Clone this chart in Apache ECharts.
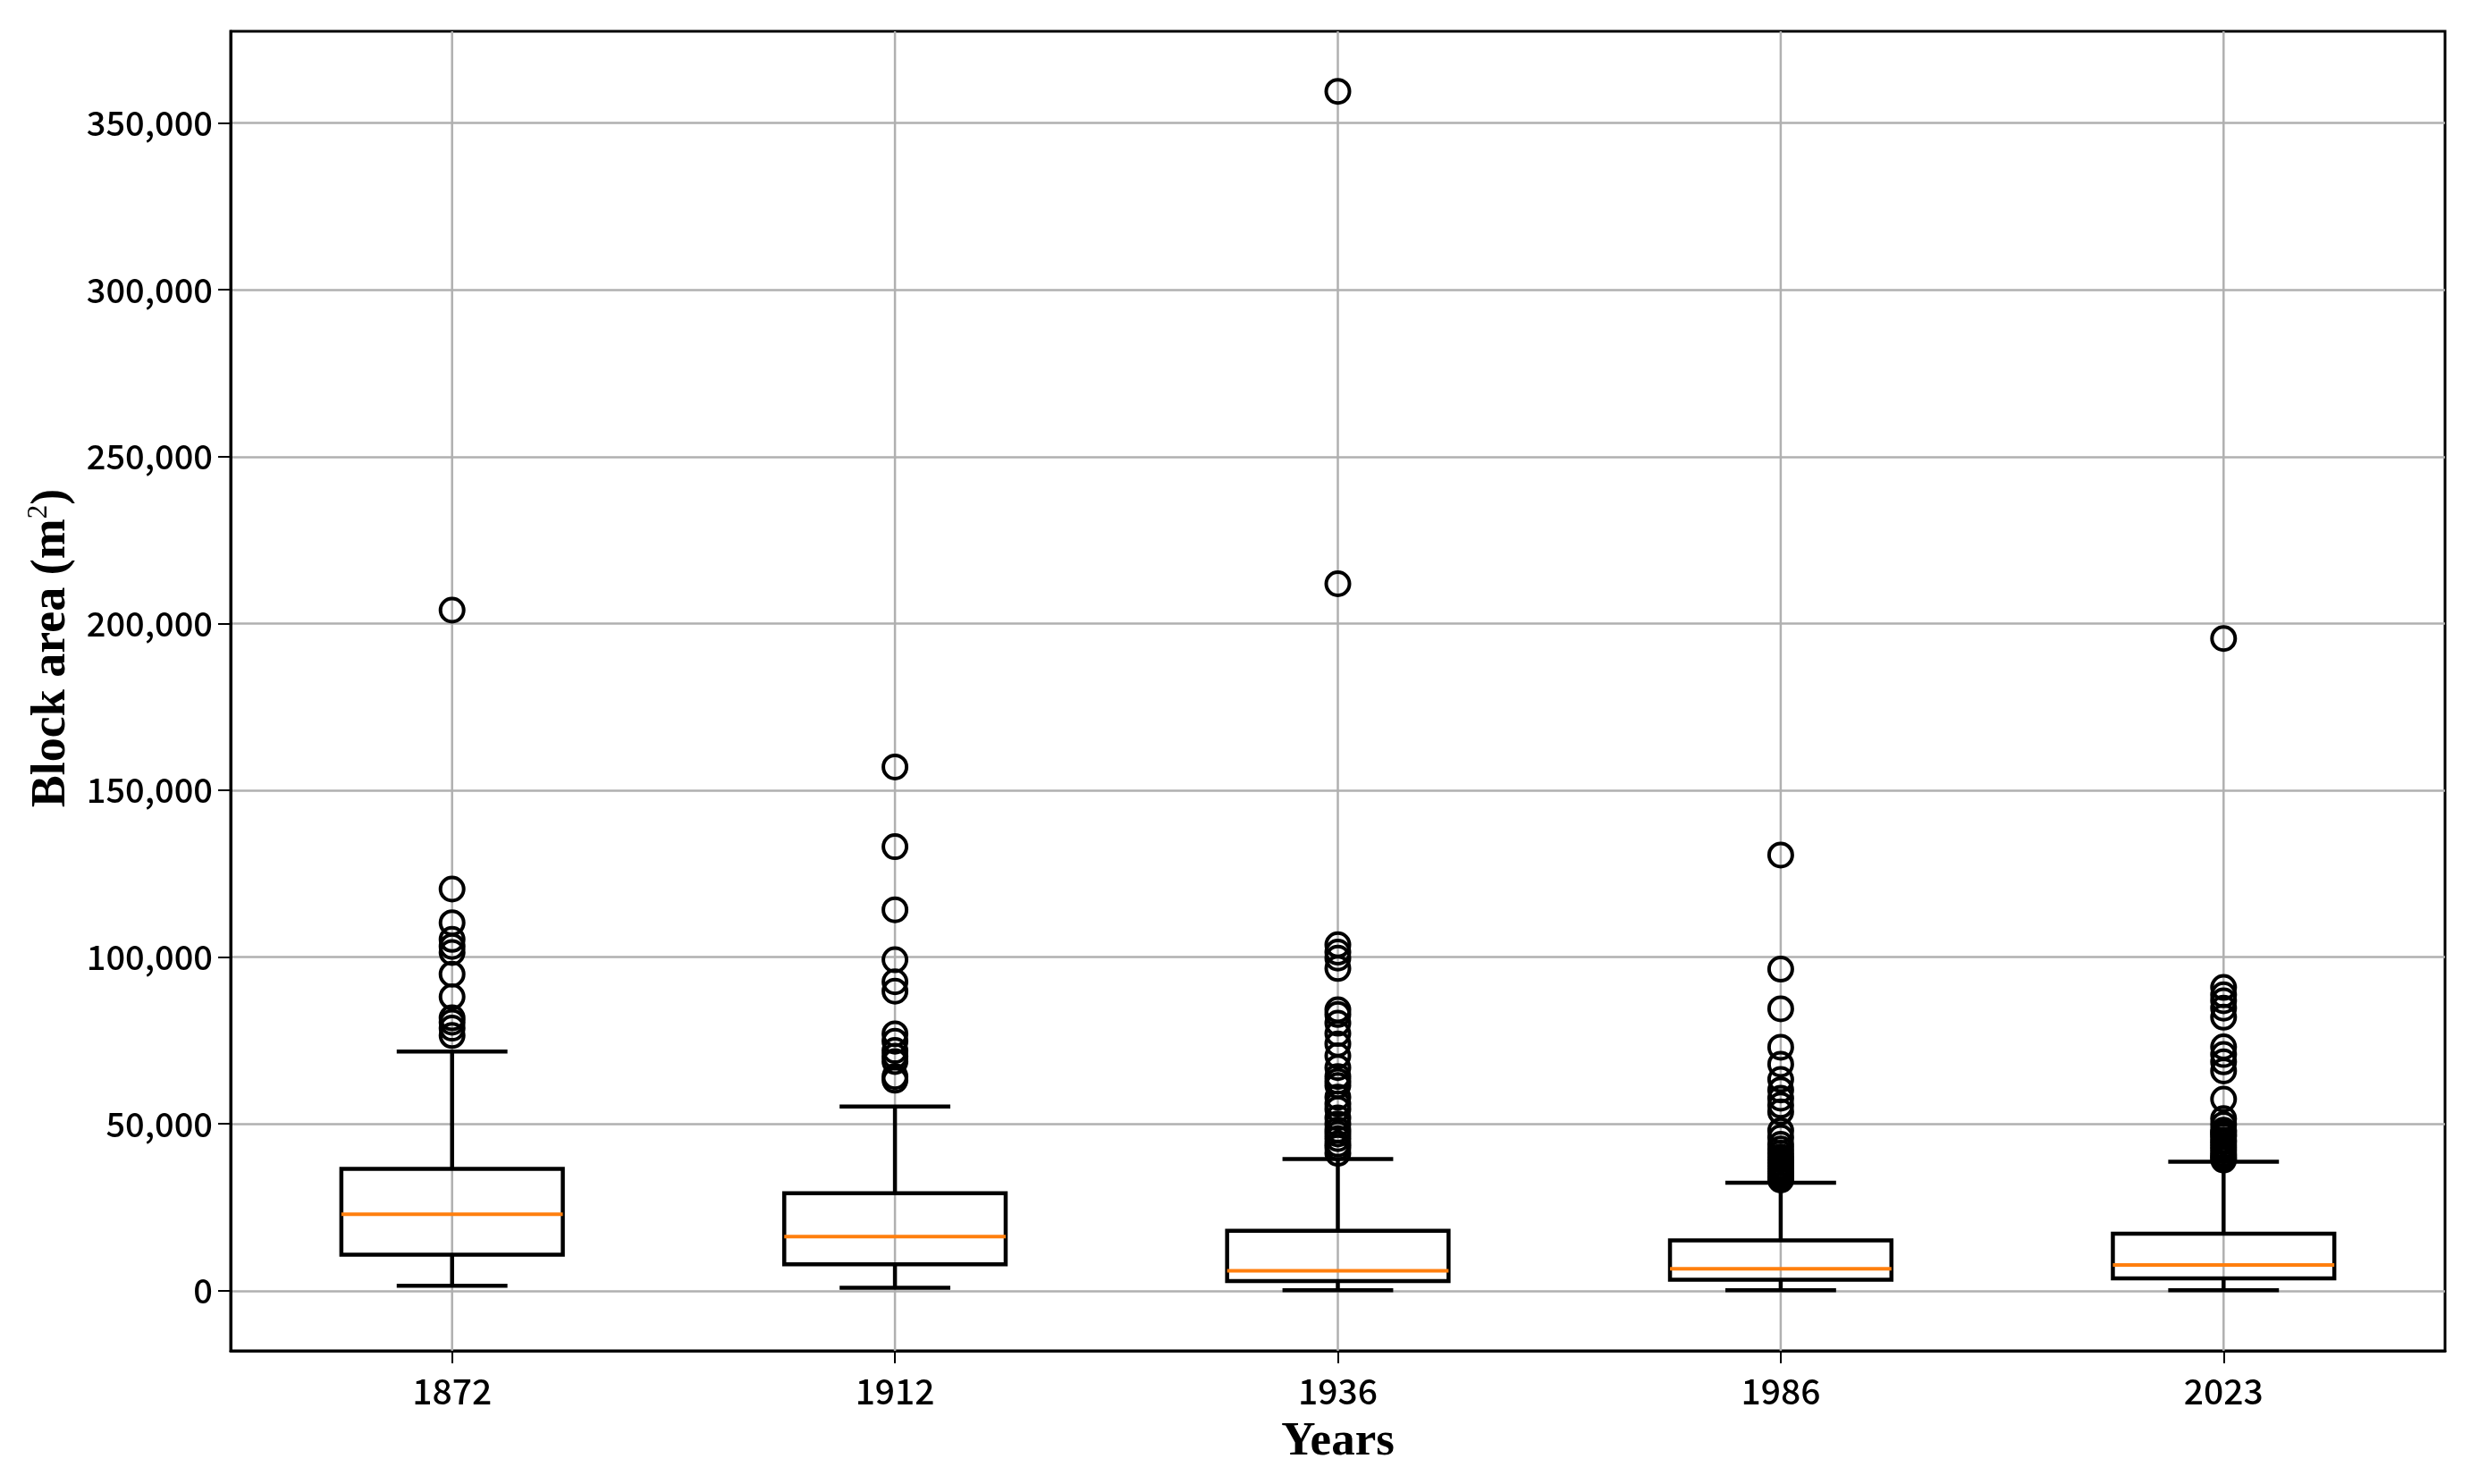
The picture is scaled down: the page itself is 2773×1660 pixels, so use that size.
<!DOCTYPE html>
<html><head><meta charset="utf-8">
<script src="https://cdn.jsdelivr.net/npm/echarts@6/dist/echarts.min.js"></script>
<style>html,body{margin:0;padding:0;background:#fff}#c{width:2773px;height:1660px}</style>
</head><body><div id="c"></div>
<script>
const years = ['1872', '1912', '1936', '1986', '2023'];
const whiskerLow  = [1500, 900, 150, 150, 150];
const q1          = [10800, 7900, 2900, 3300, 3700];
const median      = [22900, 16200, 6000, 6600, 7700];
const q3          = [36500, 29200, 18000, 15100, 17100];
const whiskerHigh = [71700, 55200, 39500, 32400, 38700];

const outliers1872 = [204000, 120400, 110300, 105300, 103200, 101400, 94900, 88100, 81800, 80500, 78700, 76500];
const outliers1912 = [157000, 133100, 114200, 99200, 92600, 89800, 77000, 74800, 72000, 70300, 68700, 64200, 63100];
const outliers1936 = [359500, 211900, 103700, 101500, 99700, 96600, 84200, 82800, 80200, 77100, 74000, 70400, 66900, 64200, 62800, 61500, 58000, 56000, 54400, 51800, 50000, 48200, 47000, 45600, 44000, 42900, 41200];
const outliers1986 = [130600, 96400, 84500, 73000, 67900, 63300, 60200, 57700, 55600, 53600, 48000, 45900, 43900, 42500, 41200, 40100, 39200, 38300, 37400, 36600, 35800, 35100, 34400, 33800, 33200];
const outliers2023 = [195500, 90900, 88700, 86900, 84700, 82000, 73100, 70800, 68600, 65900, 57400, 51600, 49800, 48100, 47500, 46800, 46300, 45200, 44500, 43600, 42800, 42000, 41000, 40400, 39800, 39200];

const yTicks = [0, 50000, 100000, 150000, 200000, 250000, 300000, 350000];
const yMin = -18000;
const yMax = 377500;

const outlierLists = [outliers1872, outliers1912, outliers1936, outliers1986, outliers2023];
const boxData = years.map((y, i) => [i, whiskerLow[i], q1[i], median[i], q3[i], whiskerHigh[i]]);
const outlierData = [];
outlierLists.forEach((arr, i) => arr.forEach(v => outlierData.push([i, v])));
const vgridData = years.map((y, i) => [i, yMin, yMax]);

function fmt(v) { return String(v).replace(/\B(?=(\d{3})+(?!\d))/g, ','); }

const chart = echarts.init(document.getElementById('c'), null, { renderer: 'canvas' });
const tickFont = 'Noto Sans CJK SC';
const titleFont = 'Liberation Serif';

chart.setOption({
  animation: false,
  backgroundColor: '#fff',
  grid: { left: 258, right: 38, top: 35, bottom: 149, show: true, borderColor: '#000', borderWidth: 3, backgroundColor: 'transparent' },
  xAxis: {
    type: 'category', data: years, boundaryGap: true,
    axisLine: { show: true, onZero: false, lineStyle: { color: '#000', width: 3 } },
    axisTick: { show: true, alignWithLabel: true, length: 14, lineStyle: { color: '#000', width: 2 } },
    axisLabel: { margin: 26, fontSize: 39, fontWeight: 500, color: '#000', fontFamily: tickFont },
    splitLine: { show: false },
    name: 'Years', nameLocation: 'middle', nameGap: 76,
    nameTextStyle: { fontFamily: titleFont, fontSize: 53, fontWeight: 'bold', color: '#000' }
  },
  yAxis: {
    type: 'value', min: yMin, max: yMax, splitNumber: 8,
    axisLine: { show: true, lineStyle: { color: '#000', width: 3 } },
    axisTick: { show: true, length: 14, customValues: yTicks, lineStyle: { color: '#000', width: 2 } },
    axisLabel: {
      margin: 20, fontSize: 38, fontWeight: 500, color: '#000', fontFamily: tickFont, customValues: yTicks,
      formatter: v => yTicks.includes(v) ? fmt(v) : ''
    },
    splitLine: { show: true, lineStyle: { color: '#b0b0b0', width: 2.5 } },
    name: '{t|Block area (m}{s|2}{t|)}', nameLocation: 'middle', nameGap: 170, nameRotate: 90,
    nameTextStyle: {
      padding: [0, 0, 0, 96],
      rich: {
        t: { fontFamily: titleFont, fontSize: 54, fontWeight: 'bold', color: '#000', lineHeight: 60 },
        s: { fontFamily: titleFont, fontSize: 31, color: '#000', verticalAlign: 'top', lineHeight: 60 }
      }
    }
  },
  series: [
    {
      type: 'custom', name: 'vgrid', data: vgridData, z: 1, silent: true,
      encode: { x: 0, y: [1, 2] },
      renderItem(params, api) {
        const a = api.coord([api.value(0), api.value(1)]);
        const b = api.coord([api.value(0), api.value(2)]);
        return { type: 'line', shape: { x1: a[0], y1: a[1], x2: b[0], y2: b[1] }, style: { stroke: '#b0b0b0', lineWidth: 2.5 } };
      }
    },
    {
      type: 'custom', name: 'box', data: boxData, z: 3,
      encode: { x: 0, y: [1, 2, 3, 4, 5] },
      renderItem(params, api) {
        const x = api.value(0);
        const lo = api.coord([x, api.value(1)]);
        const b1 = api.coord([x, api.value(2)]);
        const md = api.coord([x, api.value(3)]);
        const b3 = api.coord([x, api.value(4)]);
        const hi = api.coord([x, api.value(5)]);
        const band = api.size([1, 0])[0];
        const hw = band * 0.25, cw = band * 0.125;
        const cx = lo[0];
        const st = { stroke: '#000', lineWidth: 4.5, fill: null };
        return {
          type: 'group', children: [
            { type: 'line', shape: { x1: cx, y1: b1[1], x2: cx, y2: lo[1] }, style: st },
            { type: 'line', shape: { x1: cx, y1: b3[1], x2: cx, y2: hi[1] }, style: st },
            { type: 'line', shape: { x1: cx - cw, y1: lo[1], x2: cx + cw, y2: lo[1] }, style: st },
            { type: 'line', shape: { x1: cx - cw, y1: hi[1], x2: cx + cw, y2: hi[1] }, style: st },
            { type: 'rect', shape: { x: cx - hw, y: b3[1], width: 2 * hw, height: b1[1] - b3[1] }, style: { stroke: '#000', lineWidth: 4.5, fill: 'rgba(0,0,0,0)' } },
            { type: 'line', shape: { x1: cx - hw, y1: md[1], x2: cx + hw, y2: md[1] }, style: { stroke: '#ff7f0e', lineWidth: 4 } }
          ]
        };
      }
    },
    {
      type: 'scatter', name: 'outliers', data: outlierData, z: 4,
      symbol: 'circle', symbolSize: 26,
      itemStyle: { color: 'rgba(0,0,0,0)', borderColor: '#000', borderWidth: 4, opacity: 1 }
    }
  ]
});
</script>
</body></html>
